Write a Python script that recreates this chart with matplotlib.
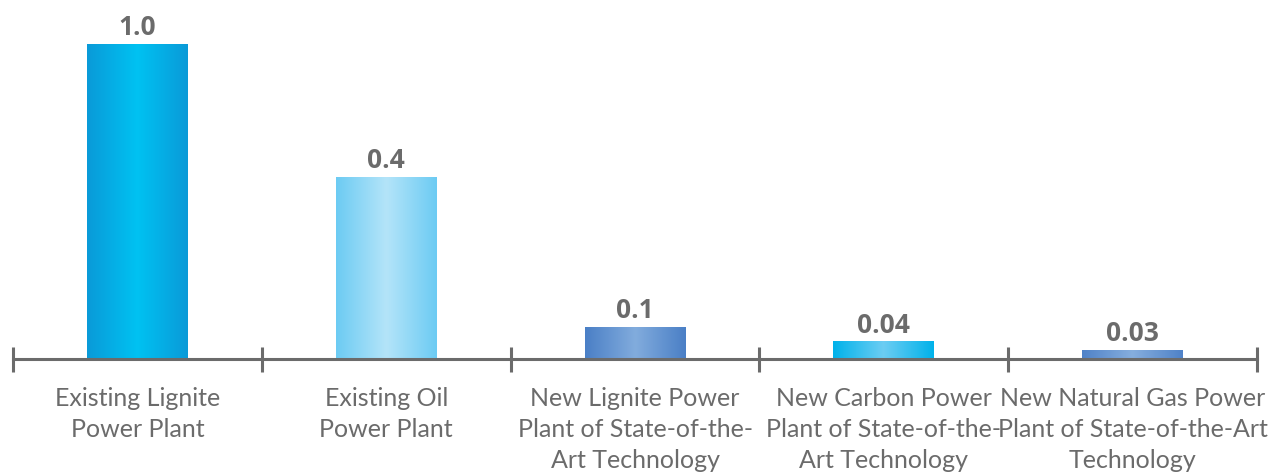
import numpy as np
import matplotlib.pyplot as plt
from matplotlib.colors import LinearSegmentedColormap

categories = ['Existing Lignite\nPower Plant',
              'Existing Oil\nPower Plant',
              'New Lignite Power\nPlant of State-of-the-\nArt Technology',
              'New Carbon Power\nPlant of State-of-the-\nArt Technology',
              'New Natural Gas Power\nPlant of State-of-the-Art\nTechnology']
heights = [1.0, 0.575, 0.10, 0.054, 0.026]
value_labels = ['1.0', '0.4', '0.1', '0.04', '0.03']
# edge / centre colours of the gradient on each bar
grad = [('#0a9ad8', '#00c2f2'),
        ('#6ccbf3', '#b4e4f9'),
        ('#4a7fc6', '#82acdd'),
        ('#00b2ea', '#6ccdf3'),
        ('#4f82c8', '#86aede')]

grey = '#6b6b6b'
plt.rcParams['font.family'] = ['Open Sans', 'DejaVu Sans']

fig = plt.figure(figsize=(12.86, 4.74), dpi=100)
ax = fig.add_axes([13/1286, 1 - 359/474, (1257 - 13)/1286, (359 - 44)/474])

n = len(categories)
x = np.arange(n)
w = 0.405
ax.set_xlim(-0.5, n - 0.5)
ax.set_ylim(0, 1)

grad_x = np.linspace(0, 1, 256)
for i, h in enumerate(heights):
    edge, centre = grad[i]
    cmap = LinearSegmentedColormap.from_list('g%d' % i, [edge, centre, edge])
    ax.imshow(grad_x[None, :], cmap=cmap, aspect='auto',
              extent=[x[i] - w/2, x[i] + w/2, 0, h], zorder=2)
    ax.text(x[i], h + 0.011, value_labels[i], ha='center', va='bottom',
            fontsize=19, fontweight='bold', color=grey, clip_on=False)

ax.set_xlim(-0.5, n - 0.5)
ax.set_ylim(0, 1)

for s in ['top', 'right', 'left']:
    ax.spines[s].set_visible(False)
ax.spines['bottom'].set_color(grey)
ax.spines['bottom'].set_linewidth(2.2)
ax.spines['bottom'].set_zorder(3)
ax.set_yticks([])

ax.set_xticks(x)
ax.set_xticklabels(categories, fontsize=18, color=grey, linespacing=1.42,
                   family=['Lato', 'DejaVu Sans'])
ax.tick_params(axis='x', which='major', length=0, pad=20)
ax.set_xticks(np.arange(-0.5, n, 1.0), minor=True)
ax.tick_params(axis='x', which='minor', length=18, width=2.2,
               direction='inout', color=grey)

fig.savefig('out.png', dpi=100)
